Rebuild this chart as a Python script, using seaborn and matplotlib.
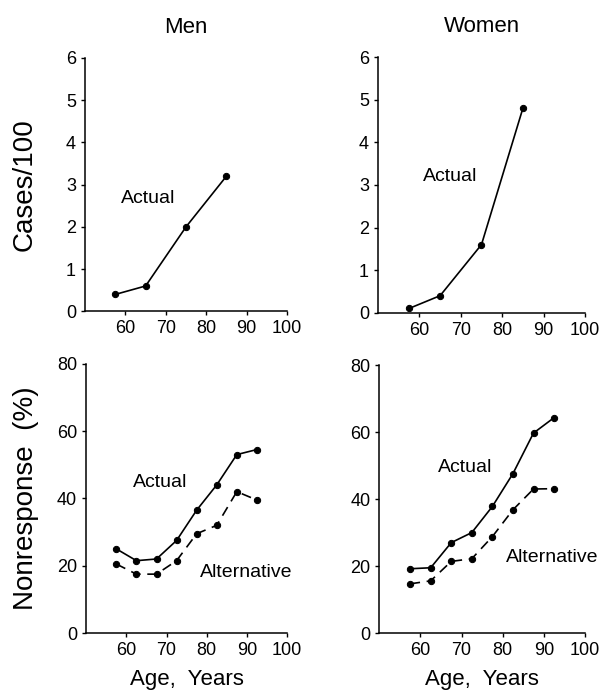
import pandas as pd
import seaborn as sns
import matplotlib.pyplot as plt

# incidence (cases/100) by age group
case_age = [57.5, 65, 75, 85]
men_cases = [0.4, 0.6, 2.0, 3.2]
women_cases = [0.1, 0.4, 1.6, 4.8]

# nonresponse (%) by 5-year age group
nr_age = [57.5, 62.5, 67.5, 72.5, 77.5, 82.5, 87.5, 92.5]
men_actual = [25, 21.5, 22, 27.5, 36.5, 44, 53, 54.5]
men_alt = [20.5, 17.5, 17.5, 21.5, 29.5, 32, 42, 39.5]
women_actual = [19.2, 19.5, 27, 30, 37.8, 47.6, 59.7, 64.3]
women_alt = [14.7, 15.6, 21.4, 22.2, 28.8, 36.8, 43, 43.1]

x_ticks = [60, 70, 80, 90, 100]

sns.set_style('ticks')
plt.rcParams['font.family'] = ['Liberation Sans', 'DejaVu Sans']
plt.rcParams['xtick.major.size'] = 3
plt.rcParams['ytick.major.size'] = 3
plt.rcParams['text.color'] = 'black'
plt.rcParams['axes.labelcolor'] = 'black'
plt.rcParams['xtick.color'] = 'black'
plt.rcParams['ytick.color'] = 'black'
plt.rcParams['axes.edgecolor'] = 'black'

fig = plt.figure(figsize=(6.03, 6.98), dpi=100)
ax_tl = fig.add_axes([0.141, 0.554, 0.335, 0.363])
ax_tr = fig.add_axes([0.627, 0.552, 0.343, 0.366])
ax_bl = fig.add_axes([0.143, 0.093, 0.333, 0.386])
ax_br = fig.add_axes([0.629, 0.093, 0.341, 0.384])

line_kw = dict(color='black', marker='o', markersize=4.5, linewidth=1.2,
               markeredgecolor='black')

sns.lineplot(x=case_age, y=men_cases, ax=ax_tl, **line_kw)
sns.lineplot(x=case_age, y=women_cases, ax=ax_tr, **line_kw)
sns.lineplot(x=nr_age, y=men_actual, ax=ax_bl, **line_kw)
sns.lineplot(x=nr_age, y=men_alt, ax=ax_bl, dashes=(6, 4), **line_kw)
sns.lineplot(x=nr_age, y=women_actual, ax=ax_br, **line_kw)
sns.lineplot(x=nr_age, y=women_alt, ax=ax_br, dashes=(6, 4), **line_kw)

for ax in [ax_tl, ax_tr]:
    ax.set_ylim(0, 6)
    ax.set_yticks(range(0, 7))
for ax in [ax_bl, ax_br]:
    ax.set_ylim(0, 80)
    ax.set_yticks([0, 20, 40, 60, 80])

for ax in [ax_tl, ax_tr, ax_bl, ax_br]:
    ax.set_xlim(50, 100)
    ax.set_xticks(x_ticks)
    sns.despine(ax=ax)
    ax.tick_params(labelsize=13, width=1, colors='black')
    for s in ['left', 'bottom']:
        ax.spines[s].set_linewidth(1.1)
        ax.spines[s].set_color('black')
    ax.set_xlabel('')
    ax.set_ylabel('')

ax_tl.set_title('Men', fontsize=16, pad=18)
ax_tr.set_title('Women', fontsize=16, pad=18)
ax_tl.set_ylabel('Cases/100', fontsize=20, labelpad=20)
ax_bl.set_ylabel('Nonresponse  (%)', fontsize=20, labelpad=13)
ax_bl.set_xlabel('Age,  Years', fontsize=16, labelpad=7)
ax_br.set_xlabel('Age,  Years', fontsize=16, labelpad=7)

ax_tl.text(65.5, 2.68, 'Actual', fontsize=14, ha='center', va='center')
ax_tr.text(67.4, 3.2, 'Actual', fontsize=14, ha='center', va='center')
ax_bl.text(68.4, 44.7, 'Actual', fontsize=14, ha='center', va='center')
ax_bl.text(89.8, 18, 'Alternative', fontsize=14, ha='center', va='center')
ax_br.text(70.9, 49.4, 'Actual', fontsize=14, ha='center', va='center')
ax_br.text(92, 22.7, 'Alternative', fontsize=14, ha='center', va='center')

fig.savefig('out.png', dpi=100)
